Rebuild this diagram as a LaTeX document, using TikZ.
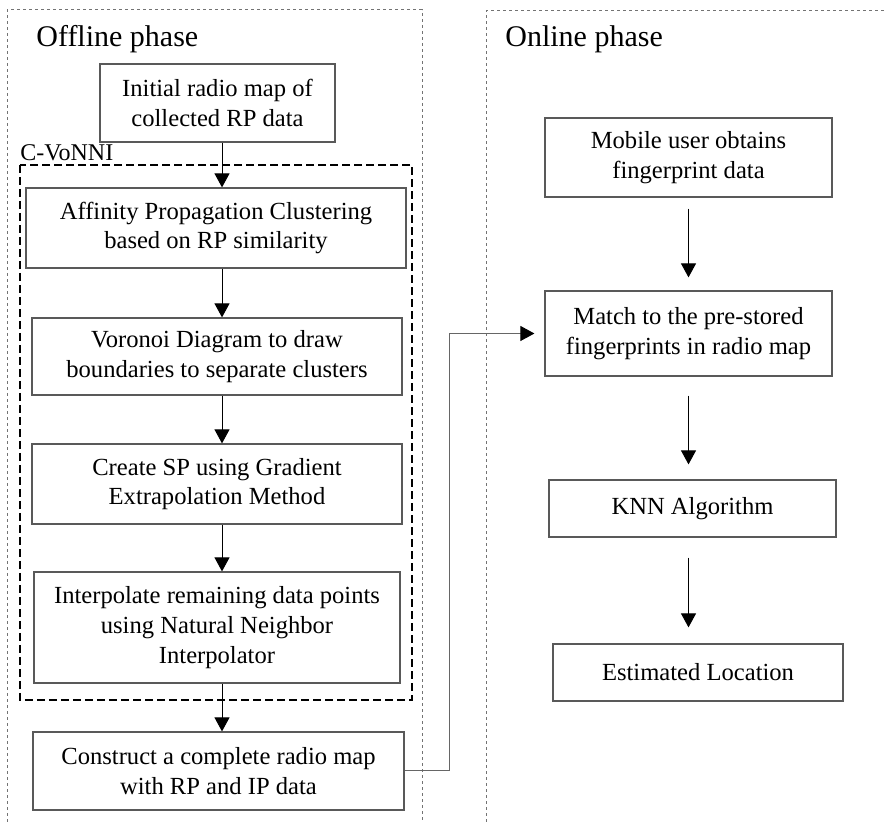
\documentclass[tikz,border=0pt]{standalone}
\usepackage{fontspec}
\setmainfont{Liberation Serif}
\usepackage{xcolor}
\usetikzlibrary{positioning,arrows.meta}

\begin{document}
\begin{tikzpicture}[x=0.5pt,y=-0.5pt,
  stepbox/.style={draw=black!65,line width=0.6pt,align=center,inner sep=0pt,font=\fontsize{12.3}{14.8}\selectfont},
  arr/.style={-{Triangle[width=7.5pt,length=7pt,black]},black,line width=0.5pt},
  phase/.style={draw=black!55,line width=0.5pt,dash pattern=on 1.5pt off 1.5pt},
  title/.style={anchor=base west,inner sep=0pt,font=\fontsize{15}{18}\selectfont}]
\useasboundingbox (0,0) rectangle (884,822);
\draw[phase] (7,822)--(7,10)--(422,10)--(422,822);
\draw[phase] (486,822)--(486,11)--(884,11);
\node[title] (off) at (36,47) {Offline phase};
\node[title] (on) at (505,47) {Online phase};
\draw[black,line width=1pt,dash pattern=on 4pt off 2pt] (20,165) rectangle (412,700);
\node[anchor=base west,inner sep=0pt,font=\fontsize{12}{14}\selectfont] (cv) at (20,161) {C-VoNNI};
\node[stepbox,minimum width=117.5pt,minimum height=39pt] (init) at (217.5,103) {Initial radio map of\\collected RP data};
\node[stepbox,minimum width=190pt,minimum height=40pt] (aff) at (216,228) {Affinity Propagation Clustering\\based on RP similarity};
\node[stepbox,minimum width=185pt,minimum height=38.5pt] (vor) at (217,356.5) {Voronoi Diagram to draw\\boundaries to separate clusters};
\node[stepbox,minimum width=185pt,minimum height=40pt] (crt) at (217,484) {Create SP using Gradient\\Extrapolation Method};
\node[stepbox,minimum width=183pt,minimum height=55.5pt] (itp) at (217,627.5) {Interpolate remaining data points\\using Natural Neighbor\\Interpolator};
\node[stepbox,minimum width=185.5pt,minimum height=39pt] (cons) at (218.5,771) {Construct a complete radio map\\with RP and IP data};
\node[stepbox,minimum width=143.5pt,minimum height=39.5pt] (mob) at (688.5,157.5) {Mobile user obtains\\fingerprint data};
\node[stepbox,minimum width=143.5pt,minimum height=42.5pt] (mat) at (688.5,333.5) {Match to the pre-stored\\fingerprints in radio map};
\node[stepbox,minimum width=143.5pt,minimum height=28.5pt] (knn) at (692.5,508.5) {KNN Algorithm};
\node[stepbox,minimum width=145pt,minimum height=28.5pt] (est) at (698,672.5) {Estimated Location};
\coordinate (ax) at (222,0);
\draw[arr] (init.south -| ax) -- (aff.north -| ax);
\draw[arr] (aff.south -| ax) -- (vor.north -| ax);
\draw[arr] (vor.south -| ax) -- (crt.north -| ax);
\draw[arr] (crt.south -| ax) -- (itp.north -| ax);
\draw[arr] (itp.south -| ax) -- (cons.north -| ax);
\draw[arr,shorten <=5.5pt,shorten >=6.5pt] (mob.south) -- (mob.south |- mat.north);
\draw[arr,shorten <=9.5pt,shorten >=7.5pt] (mob.south |- mat.south) -- (mob.south |- knn.north);
\draw[arr,shorten <=10pt,shorten >=8pt] (mob.south |- knn.south) -- (mob.south |- est.north);
\draw[arr,draw=black!60,shorten >=5pt] (cons.east) -- ++(45,0) |- (mat.west);
\end{tikzpicture}
\end{document}
